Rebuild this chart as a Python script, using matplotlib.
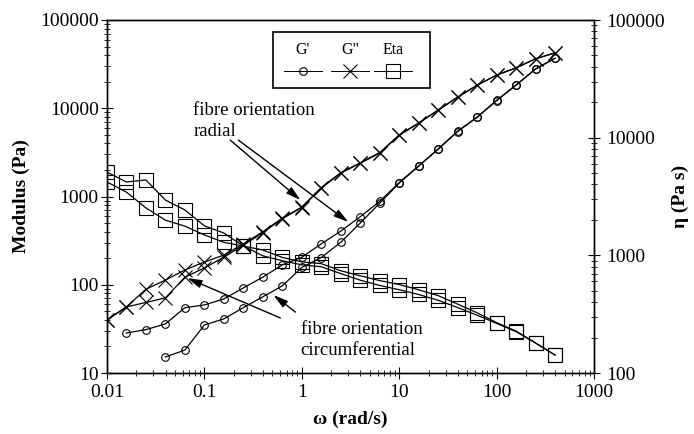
import matplotlib
matplotlib.use('Agg')
import matplotlib.pyplot as plt
from matplotlib import ticker
from matplotlib.lines import Line2D
from matplotlib.patches import Rectangle

plt.rcParams['font.family'] = ['Liberation Serif', 'DejaVu Serif']

# angular frequency, rad/s (5 points per decade)
freq = [0.01, 0.0158, 0.0251, 0.0398, 0.0631, 0.1, 0.158, 0.251, 0.398, 0.631,
        1.0, 1.58, 2.51, 3.98, 6.31, 10.0, 15.8, 25.1, 39.8, 63.1,
        100.0, 158.0, 251.0, 398.0]

# storage modulus G' (Pa)
gp_radial = [28.4, 31, 36, 55, 59, 69, 92, 122, 168, 205, 290, 405, 590, 880,
             1440, 2220, 3460, 5500, 7940, 12300, 18300, 27900, 37000]   # from 0.0158
gp_circ = [15.2, 18.2, 35, 41, 55, 73, 97, 157, 203, 303, 500, 840,
           1420, 2200, 3430, 5450, 7900, 12200, 18200, 27800, 36800]      # from 0.0398

# loss modulus G" (Pa)
gpp_radial = [40, 56, 89, 113, 147, 181, 217, 290, 398, 570, 760, 1260, 1860, 2410,
              3150, 4990, 6800, 9560, 13400, 18300, 23800, 28700, 36400, 42500]
gpp_circ = [40, 56, 63, 71, 122, 155, 205, 280, 390, 560, 750, 1240, 1840, 2380,
            3100, 4950, 6750, 9500, 13300, 18200, 23700, 28600, 36300, 42400]

# complex viscosity (Pa s)
eta_radial = [5100, 4200, 4370, 2950, 2430, 1780, 1550, 1200, 1110, 960, 880, 850,
              740, 670, 610, 565, 510, 455, 385, 325, 268, 227, 180, 142]
eta_circ = [4200, 3450, 2530, 1990, 1770, 1490, 1290, 1200, 990, 900, 830, 800,
            700, 615, 555, 510, 465, 415, 360, 310, 264, 225, 180, 142]

fig = plt.figure(figsize=(6.94, 4.34), dpi=100)
ax = fig.add_axes([107/694, 1 - 373/434, 487/694, 353/434])
ax2 = ax.twinx()

circ = dict(color='k', lw=0.9, marker='o', ms=5.5, mfc='none', mec='k', mew=0.8)
cross = dict(color='k', lw=0.9, marker='x', ms=10, mec='k', mew=0.8)
square = dict(color='k', lw=0.9, marker='s', ms=9.5, mfc='none', mec='k', mew=0.8)

ax.plot(freq[1:], gp_radial, **circ)
ax.plot(freq[3:], gp_circ, **circ)
ax.plot(freq, gpp_radial, **cross)
ax.plot(freq, gpp_circ, **cross)
ax2.plot(freq, eta_radial, **square)
ax2.plot(freq, eta_circ, **square)

fmt = ticker.FuncFormatter(lambda v, p: '%g' % v)
ax.set_xscale('log')
ax.set_yscale('log')
ax2.set_yscale('log')
ax.set_xlim(0.01, 1000)
ax.set_ylim(10, 100000)
ax2.set_ylim(100, 100000)
for a in (ax, ax2):
    a.yaxis.set_major_formatter(fmt)
    a.yaxis.set_minor_formatter(ticker.NullFormatter())
ax.xaxis.set_major_formatter(fmt)
ax.xaxis.set_minor_formatter(ticker.NullFormatter())

for a in (ax, ax2):
    a.tick_params(which='major', direction='inout', length=8, width=0.8, labelsize=14)
    a.tick_params(which='minor', direction='inout', length=4, width=0.6)
    for s in a.spines.values():
        s.set_linewidth(1.0)
ax.tick_params(axis='x', which='both', top=False, pad=4)
ax.tick_params(axis='y', which='both', right=False, pad=2)
ax2.tick_params(axis='y', which='both', pad=5)

ax.set_xlabel('ω (rad/s)', fontsize=14, fontweight='bold', labelpad=7)
ax.set_ylabel('Modulus (Pa)', fontsize=14, fontweight='bold', labelpad=7)
ax2.set_ylabel('η (Pa s)', fontsize=14, fontweight='bold', labelpad=5)

# annotations
arrow = dict(arrowstyle='-|>,head_length=0.8,head_width=0.22', color='k', lw=1.0,
             mutation_scale=11, shrinkA=0, shrinkB=0)
ax.text(0.077, 7100, 'fibre orientation\nradial', fontsize=13.5, ha='left', va='center',
        linespacing=1.3)
ax.annotate('', xy=(0.97, 910), xytext=(0.184, 4360), arrowprops=arrow)
ax.annotate('', xy=(3.0, 514), xytext=(0.223, 4360), arrowprops=arrow)
ax.text(0.97, 23.7, 'fibre orientation\ncircumferential', fontsize=13.5, ha='left',
        va='center', linespacing=1.3)
ax.annotate('', xy=(0.0666, 119), xytext=(0.603, 42), arrowprops=arrow)
ax.annotate('', xy=(0.511, 76.6), xytext=(0.86, 49), arrowprops=arrow)

# legend box with labels above the line symbols
ax.add_patch(Rectangle((0.341, 0.807), 0.322, 0.159, transform=ax.transAxes,
                       fill=False, lw=1.2, ec='k', zorder=5))
legend_items = [("G'", circ), ('G"', cross), ('Eta', square)]
for xc, (lab, style) in zip([0.402, 0.499, 0.587], legend_items):
    ax.text(xc, 0.915, lab, transform=ax.transAxes, ha='center', va='center', fontsize=11.5)
    ax.add_line(Line2D([xc - 0.039, xc + 0.039], [0.856, 0.856], transform=ax.transAxes,
                       color='k', lw=0.7))
    ax.add_line(Line2D([xc], [0.856], transform=ax.transAxes, ls='None',
                       **{k: v for k, v in style.items() if k not in ('color', 'lw')}))

fig.savefig('out.png', dpi=100)
